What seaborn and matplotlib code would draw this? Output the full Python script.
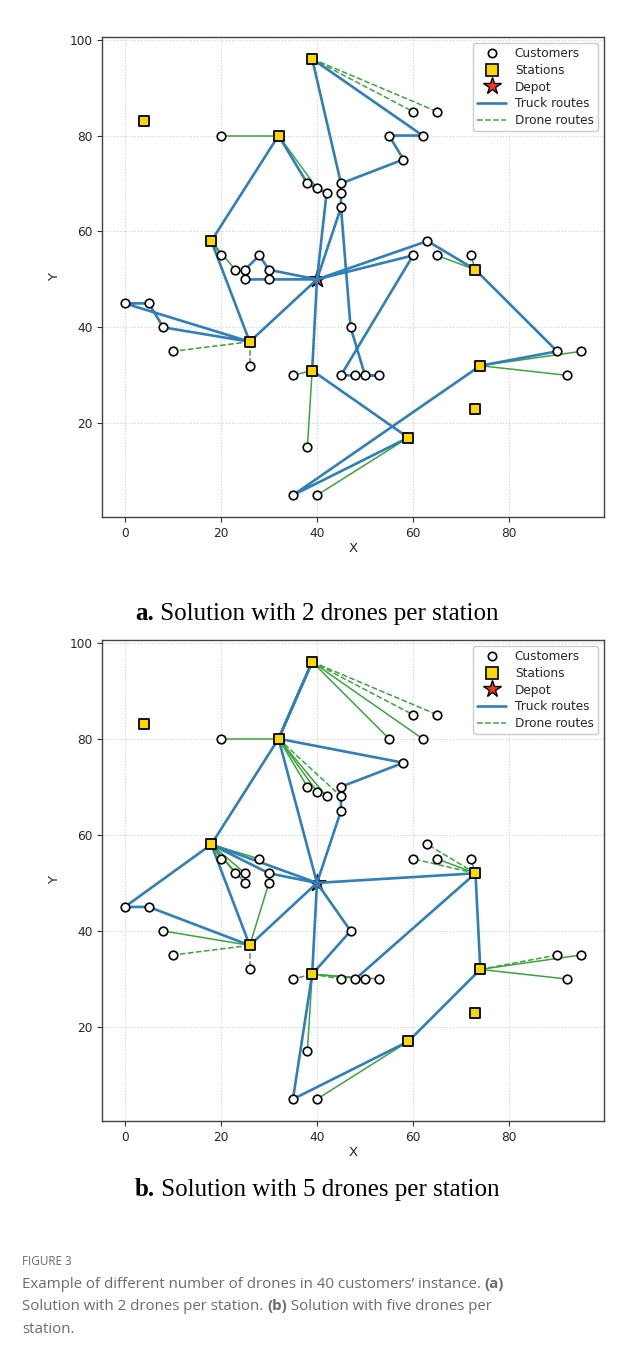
import seaborn as sns
import matplotlib.pyplot as plt
from matplotlib.lines import Line2D

sns.set_style("ticks")
plt.rcParams["font.family"] = ["DejaVu Sans"]

# customer / station / depot coordinates
customers_x = [60, 65, 55, 62, 20, 58, 38, 40, 42, 45, 45, 45, 20, 23, 25, 28, 30, 25, 30, 0,
               5, 8, 10, 26, 47, 35, 45, 48, 50, 53, 38, 35, 40, 60, 63, 65, 72, 90, 95, 92]
customers_y = [85, 85, 80, 80, 80, 75, 70, 69, 68, 70, 68, 65, 55, 52, 52, 55, 52, 50, 50, 45,
               45, 40, 35, 32, 40, 30, 30, 30, 30, 30, 15, 5, 5, 55, 58, 55, 55, 35, 35, 30]
stations_x = [39, 4, 32, 18, 26, 39, 73, 74, 73, 59]
stations_y = [96, 83, 80, 58, 37, 31, 52, 32, 23, 17]
depot_x = [40]
depot_y = [50]

# (a) 2 drones per station
truck_a = [
    [(40, 50), (26, 37), (8, 40), (5, 45), (0, 45), (26, 37), (18, 58), (32, 80), (38, 70), (42, 68), (40, 50)],
    [(40, 50), (45, 65), (47, 40), (50, 30), (53, 30), (45, 30), (60, 55), (40, 50)],
    [(45, 65), (45, 70), (39, 96), (62, 80), (55, 80), (58, 75), (45, 70)],
    [(40, 50), (63, 58), (73, 52), (90, 35), (74, 32), (35, 5), (59, 17), (39, 31), (40, 50)],
    [(40, 50), (30, 50), (25, 50), (25, 52), (28, 55), (30, 52), (40, 50)],
]
drone_a_solid = [((32, 80), (20, 80)), ((32, 80), (40, 69)), ((18, 58), (23, 52)), ((18, 58), (20, 55)),
                 ((39, 31), (38, 15)), ((39, 31), (35, 30)), ((59, 17), (40, 5)), ((74, 32), (95, 35)),
                 ((74, 32), (92, 30)), ((73, 52), (65, 55)), ((73, 52), (72, 55))]
drone_a_dashed = [((39, 96), (60, 85)), ((39, 96), (65, 85)), ((26, 37), (10, 35)), ((26, 37), (26, 32))]

# (b) 5 drones per station
truck_b = [
    [(40, 50), (32, 80), (39, 96), (32, 80), (58, 75), (45, 70), (45, 65), (40, 50)],
    [(40, 50), (30, 52), (18, 58), (0, 45), (5, 45), (26, 37), (40, 50)],
    [(32, 80), (18, 58), (40, 50)],
    [(18, 58), (26, 37)],
    [(40, 50), (73, 52), (74, 32), (59, 17), (35, 5), (39, 31), (40, 50)],
    [(40, 50), (47, 40), (39, 31)],
    [(73, 52), (48, 30)],
]
drone_b_solid = [((39, 96), (55, 80)), ((39, 96), (62, 80)), ((32, 80), (20, 80)), ((32, 80), (38, 70)),
                 ((32, 80), (40, 69)), ((32, 80), (42, 68)), ((18, 58), (20, 55)), ((18, 58), (23, 52)),
                 ((18, 58), (25, 52)), ((18, 58), (25, 50)), ((18, 58), (28, 55)), ((26, 37), (8, 40)),
                 ((26, 37), (30, 50)), ((39, 31), (38, 15)), ((39, 31), (53, 30)), ((39, 31), (50, 30)),
                 ((59, 17), (40, 5)), ((74, 32), (95, 35)), ((74, 32), (92, 30)), ((73, 52), (65, 55)),
                 ((73, 52), (72, 55))]
drone_b_dashed = [((39, 96), (60, 85)), ((39, 96), (65, 85)), ((32, 80), (45, 68)), ((26, 37), (10, 35)),
                  ((26, 37), (26, 32)), ((39, 31), (35, 30)), ((39, 31), (45, 30)), ((74, 32), (90, 35)),
                  ((73, 52), (60, 55)), ((73, 52), (63, 58))]

BLUE = "#2f7fba"
GREEN = "#3aa63a"
GOLD = "#ffd700"
RED = "#f03c14"


def draw_panel(ax, truck, solid, dashed):
    for route in truck:
        xs, ys = zip(*route)
        ax.plot(xs, ys, color=BLUE, lw=1.9, zorder=2)
    for s, c in solid:
        ax.plot([s[0], c[0]], [s[1], c[1]], color=GREEN, lw=1.1, zorder=1.8)
    for s, c in dashed:
        ax.plot([s[0], c[0]], [s[1], c[1]], color=GREEN, lw=1.1, ls="--", zorder=1.8)
    sns.scatterplot(x=depot_x, y=depot_y, marker="*", s=160, color=RED, edgecolor="black",
                    linewidth=1.0, zorder=1.5, ax=ax)
    sns.scatterplot(x=customers_x, y=customers_y, marker="o", s=38, color="white", edgecolor="black",
                    linewidth=1.2, zorder=3, ax=ax)
    sns.scatterplot(x=stations_x, y=stations_y, marker="s", s=55, color=GOLD, edgecolor="black",
                    linewidth=1.3, zorder=4, ax=ax)
    ax.margins(0.05)
    ax.set_xticks([0, 20, 40, 60, 80])
    ax.set_yticks([20, 40, 60, 80, 100])
    ax.grid(True, ls=":", color="#cfcfcf", lw=0.8)
    ax.set_axisbelow(True)
    ax.tick_params(labelsize=8.7, length=3.5, color="#333333")
    for sp in ax.spines.values():
        sp.set_visible(True)
        sp.set_color("#444444")
        sp.set_linewidth(1.0)
    ax.set_xlabel("X", fontsize=9.5, labelpad=2)
    ax.set_ylabel("Y", fontsize=9.5, labelpad=6)
    handles = [
        Line2D([], [], ls="", marker="o", ms=6, mfc="white", mec="black", mew=1.2),
        Line2D([], [], ls="", marker="s", ms=8, mfc=GOLD, mec="black", mew=1.2),
        Line2D([], [], ls="", marker="*", ms=13, mfc=RED, mec="black", mew=1.0),
        Line2D([], [], color=BLUE, lw=1.9),
        Line2D([], [], color=GREEN, lw=1.1, ls="--"),
    ]
    ax.legend(handles, ["Customers", "Stations", "Depot", "Truck routes", "Drone routes"],
              loc="upper right", fontsize=8.7, labelspacing=0.3, handlelength=2.4,
              borderpad=0.35, handletextpad=0.7, framealpha=1.0, edgecolor="#cccccc")


fig = plt.figure(figsize=(6.41, 13.53), dpi=100)
W, H = 641, 1353
ax1 = fig.add_axes([102 / W, 1 - 517 / H, 502 / W, 480 / H])
ax2 = fig.add_axes([102 / W, 1 - 1121 / H, 502 / W, 481 / H])
draw_panel(ax1, truck_a, drone_a_solid, drone_a_dashed)
draw_panel(ax2, truck_b, drone_b_solid, drone_b_dashed)

renderer = fig.canvas.get_renderer()


def rich_line(parts, x_px, y_px, size, family, color):
    x = x_px
    for txt, bold in parts:
        t = fig.text(x / W, 1 - y_px / H, txt, fontsize=size, family=family, color=color,
                     weight="bold" if bold else "normal", va="baseline", ha="left")
        x += t.get_window_extent(renderer).width


rich_line([("a.", True), (" Solution with 2 drones per station", False)], 135, 620, 18,
          ["Liberation Serif"], "black")
rich_line([("b.", True), (" Solution with 5 drones per station", False)], 135, 1196, 18,
          ["Liberation Serif"], "black")

cap_color = "#6b6b6b"
fig.text(22 / W, 1 - 1265 / H, "FIGURE 3", fontsize=8.5, family=["Open Sans"], color=cap_color)
rich_line([("Example of different number of drones in 40 customers\u2019 instance. ", False), ("(a)", True)],
          22, 1288, 10.8, ["Open Sans"], cap_color)
rich_line([("Solution with 2 drones per station. ", False), ("(b)", True),
           (" Solution with five drones per", False)], 22, 1310, 10.8, ["Open Sans"], cap_color)
rich_line([("station.", False)], 22, 1333, 10.8, ["Open Sans"], cap_color)

fig.savefig("out.png", dpi=100)
plt.close()
